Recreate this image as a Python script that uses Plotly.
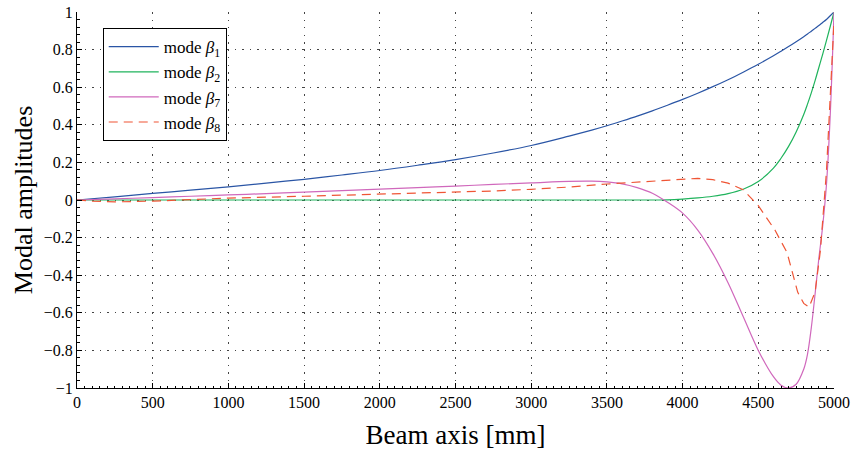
import plotly.graph_objects as go

# Sampling positions along the beam [mm]
x_pos = [0, 250, 500, 750, 1000, 1250, 1500, 1750, 2000, 2250, 2500, 2750,
         3000, 3250, 3400, 3500, 3600, 3700, 3800, 3900, 4000, 4100, 4200,
         4300, 4400, 4500, 4600, 4650, 4700, 4750, 4800, 4825, 4850, 4875,
         4900, 4925, 4950, 4975, 5000]

# Modal amplitudes (normalised to 1 at the free end)
beta1 = [0.0, 0.017, 0.035, 0.052, 0.070, 0.090, 0.110, 0.133, 0.157, 0.185,
         0.215, 0.250, 0.290, 0.340, 0.372, 0.395, 0.420, 0.446, 0.474, 0.504,
         0.535, 0.568, 0.603, 0.640, 0.680, 0.722, 0.767, 0.791, 0.816, 0.842,
         0.869, 0.883, 0.898, 0.913, 0.928, 0.944, 0.960, 0.980, 1.0]
beta2 = [0.0, 0.0, 0.0, 0.0, 0.0, 0.0, 0.0, 0.0, 0.0, 0.0,
         0.0, 0.0, 0.0, 0.0, 0.0, 0.0, 0.0, 0.0, 0.0, 0.001,
         0.005, 0.011, 0.020, 0.034, 0.057, 0.098, 0.170, 0.222, 0.285, 0.362,
         0.455, 0.510, 0.570, 0.635, 0.705, 0.775, 0.848, 0.923, 1.0]
beta7 = [0.0, 0.006, 0.013, 0.020, 0.027, 0.034, 0.042, 0.050, 0.058, 0.066,
         0.074, 0.083, 0.091, 0.099, 0.100, 0.096, 0.086, 0.066, 0.036, -0.012,
         -0.070, -0.160, -0.285, -0.440, -0.620, -0.800, -0.940, -0.985, -1.0, -0.980,
         -0.900, -0.820, -0.680, -0.500, -0.310, -0.140, 0.080, 0.450, 1.0]

# Mode 8 is tabulated on its own, coarser grid
x_pos8 = [0, 100, 250, 500, 750, 1000, 1500, 2000, 2500, 2750, 3000, 3250,
          3500, 3750, 4000, 4100, 4200, 4300, 4400, 4500, 4610, 4690, 4760,
          4800, 4835, 4875, 4910, 4950, 5000]
beta8 = [0.0, -0.006, -0.010, -0.006, 0.002, 0.010, 0.020, 0.030, 0.042, 0.048,
         0.057, 0.069, 0.085, 0.099, 0.110, 0.115, 0.108, 0.090, 0.055, -0.030,
         -0.160, -0.280, -0.490, -0.550, -0.570, -0.490, -0.270, 0.150, 0.950]

x_ticks = list(range(0, 5001, 500))
y_ticks = [-1, -0.8, -0.6, -0.4, -0.2, 0, 0.2, 0.4, 0.6, 0.8, 1]
y_ticktext = ["\u22121", "\u22120.8", "\u22120.6", "\u22120.4", "\u22120.2", "0",
              "0.2", "0.4", "0.6", "0.8", "1"]

FONT = "Liberation Serif, Times New Roman, serif"

fig = go.Figure()
fig.add_trace(go.Scatter(x=x_pos, y=beta1, mode="lines", name="mode <i>β</i><sub>1</sub>",
                         line=dict(color="#2a55a5", width=1.2, shape="spline", smoothing=1)))
fig.add_trace(go.Scatter(x=x_pos, y=beta2, mode="lines", name="mode <i>β</i><sub>2</sub>",
                         line=dict(color="#1fb35c", width=1.2, shape="spline", smoothing=1)))
fig.add_trace(go.Scatter(x=x_pos, y=beta7, mode="lines", name="mode <i>β</i><sub>7</sub>",
                         line=dict(color="#d068bc", width=1.2, shape="spline", smoothing=1)))
fig.add_trace(go.Scatter(x=x_pos8, y=beta8, mode="lines", name="mode <i>β</i><sub>8</sub>",
                         line=dict(color="#ef5535", width=1.2, dash="9px,6px")))

grid = dict(showgrid=True, gridcolor="#444444", gridwidth=1, griddash="1.5px,6px")
tick_font = dict(family=FONT, size=16, color="black")

fig.update_layout(
    width=851, height=455,
    margin=dict(l=77, r=17, t=12, b=67, autoexpand=False),
    paper_bgcolor="white", plot_bgcolor="white",
    font=dict(family=FONT, color="black", size=16),
    showlegend=True,
    legend=dict(x=0.034, y=0.957, xanchor="left", yanchor="top",
                bgcolor="white", bordercolor="black", borderwidth=1,
                font=dict(family=FONT, size=17, color="black"),
                tracegroupgap=0, itemwidth=50),
    xaxis=dict(range=[0, 5000], tickvals=x_ticks, ticks="inside", ticklen=5,
               tickcolor="black", showline=True, linecolor="black", linewidth=1,
               zeroline=False, tickfont=tick_font, automargin=False,
               minor=dict(ticks="inside", ticklen=2.5, dtick=50, tickcolor="black",
                          showgrid=False),
               title=dict(text="Beam axis [mm]", font=dict(family=FONT, size=27),
                          standoff=14),
               **grid),
    yaxis=dict(range=[-1, 1], tickvals=y_ticks, ticktext=y_ticktext, ticks="inside",
               ticklen=5, tickcolor="black", showline=True, linecolor="black",
               linewidth=1, zeroline=False, tickfont=tick_font, automargin=False,
               minor=dict(ticks="inside", ticklen=2.5, dtick=0.04, tickcolor="black",
                          showgrid=False),
               title=dict(text="Modal amplitudes", font=dict(family=FONT, size=26),
                          standoff=3),
               **grid),
)

fig.write_html("out.html")
